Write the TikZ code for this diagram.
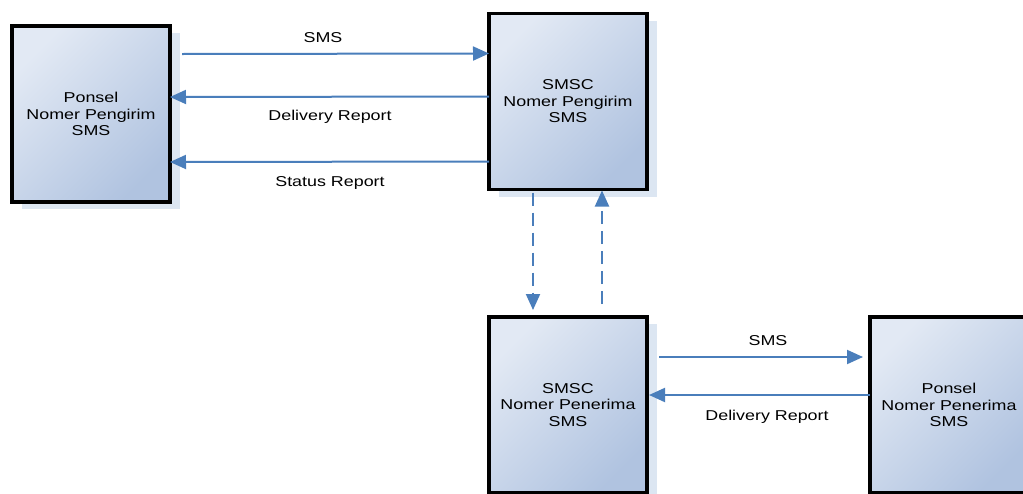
\documentclass[tikz,border=0pt]{standalone}
\usepackage{fontspec}
\setmainfont[FakeStretch=1.25]{Liberation Sans}
\usetikzlibrary{arrows.meta,shadows}
\definecolor{flowblue}{HTML}{4A7EBB}
\definecolor{boxlight}{HTML}{E2E9F4}
\definecolor{boxdark}{HTML}{B0C3E0}
\definecolor{shadowblue}{HTML}{DCE6F2}
\tikzset{
  unit/.style={rectangle, draw=black, line width=3.8pt, outer sep=0pt,
    minimum width=158pt, minimum height=176pt, align=center,
    top color=boxlight, bottom color=boxdark, shading angle=45,
    general shadow={fill=shadowblue, shadow xshift=10pt, shadow yshift=-7pt},
    font=\fontsize{14.3}{16.5}\selectfont},
  flow/.style={draw=flowblue, line width=2pt,
    -{Triangle[length=16pt, width=14pt]}},
  dflow/.style={flow, dash pattern=on 13pt off 7pt},
  lbl/.style={font=\fontsize{14.3}{16}\selectfont, inner sep=0pt}
}
\begin{document}
\begin{tikzpicture}[x=1pt, y=-1pt]
\useasboundingbox (0,0) rectangle (1023,493);
\fill[white] (0,0) rectangle (1023,493);
\clip (0,0) rectangle (1023,493);

% handsets and service centres
\node[unit] (tx)   at (91,114)  {Ponsel\\Nomer Pengirim\\SMS};
\node[unit] (smsc1) at (568,101.5) {SMSC\\Nomer Pengirim\\SMS};
\node[unit] (smsc2) at (568,405) {SMSC\\Nomer Penerima\\SMS};
\node[unit] (rx)   at (949,405) {Ponsel\\Nomer Penerima\\SMS};

% sender <-> sender's SMSC
\draw[flow] ([xshift=12pt,yshift=-28pt]tx.north east) -- ([yshift=-40pt]smsc1.north west);
\draw[flow] ([yshift=-83pt]smsc1.north west) -- ([yshift=-71pt]tx.north east);
\draw[flow] ([yshift=-148pt]smsc1.north west) -- ([yshift=-136pt]tx.north east);

% SMSC <-> SMSC
\draw[dflow] ([xshift=-35pt,yshift=-3pt]smsc1.south) -- ([xshift=-35pt,yshift=7pt]smsc2.north);
\draw[dflow] ([xshift=34pt,yshift=13pt]smsc2.north) -- ([xshift=34pt,yshift=-1pt]smsc1.south);

% recipient's SMSC <-> recipient
\draw[flow] ([xshift=12pt,yshift=-40pt]smsc2.north east) -- ([xshift=-7pt,yshift=-40pt]rx.north west);
\draw[flow] ([yshift=-78pt]rx.north west) -- ([xshift=2pt,yshift=-78pt]smsc2.north east);

% connector labels
\node[lbl] (l1) at (323,38)  {SMS};
\node[lbl] (l2) at (330,117) {Delivery Report};
\node[lbl] (l3) at (330,183) {Status Report};
\node[lbl] (l4) at (768,341) {SMS};
\node[lbl] (l5) at (767,417) {Delivery Report};
\end{tikzpicture}
\end{document}
